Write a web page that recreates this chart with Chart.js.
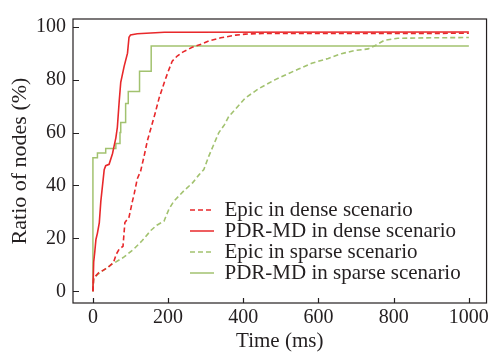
<!DOCTYPE html>
<html>
<head>
<meta charset="utf-8">
<script src="https://cdn.jsdelivr.net/npm/chart.js@4/dist/chart.umd.min.js"></script>
<style>
  html, body { margin: 0; padding: 0; background: #fff; }
  #wrap { width: 492px; height: 358px; }
</style>
</head>
<body>
<div id="wrap"><canvas id="chart" width="492" height="358"></canvas></div>
<script>
// series: time in ms, ratio of nodes in %
var epicDenseT = [0, 2, 15, 40, 55, 62, 70, 80, 85, 96, 105, 110, 118, 127, 136, 145, 155, 165, 176, 190, 200, 211, 225, 240, 264, 290, 310, 340, 380, 405, 450, 1000];
var epicDenseV = [0, 5, 7, 9, 11, 14, 16, 17, 26, 28, 34, 37, 42.5, 45.5, 51, 57, 62, 67, 73, 79, 83, 87, 89, 90.5, 92.2, 93.5, 94.7, 95.8, 96.8, 97.2, 97.4, 97.5];

var pdrDenseT = [0, 2, 5, 8, 12, 17, 21, 30, 34, 43, 52, 56, 61, 65, 70, 74, 83, 92, 96, 100, 118, 190, 1000];
var pdrDenseV = [0, 11, 15, 19.6, 22, 26, 34, 46, 47.5, 48, 52, 54.7, 58, 62, 72, 79, 85, 90, 96, 96.9, 97.3, 97.9, 98];

var epicSparseT = [0, 2, 12, 48, 83, 109, 130, 154, 170, 189, 202, 215, 242, 265, 282, 295, 308, 320, 335, 350, 361, 380, 405, 440, 485, 520, 547, 582, 626, 661, 697, 732, 750, 776, 811, 900, 1000];
var epicSparseV = [0, 5, 6.3, 10, 13, 16, 19, 23, 25, 26.5, 31, 34, 38, 41, 44, 46, 51, 55, 60, 63, 66, 69, 73, 76.5, 80, 82.3, 84, 86.2, 88, 89.8, 91, 91.6, 92.8, 94.9, 95.6, 95.8, 95.9];

// step curve: each value holds from the previous time up to its own time
var pdrSparseT = [0, 0, 12, 34, 61, 72, 74, 87, 94, 124, 155, 1000];
var pdrSparseV = [0, 50.5, 52.3, 54, 55.9, 60, 63.8, 71, 75.5, 83.2, 92.7, 92.7];

var seriesNames = ["Epic in dense scenario", "PDR-MD in dense scenario", "Epic in sparse scenario", "PDR-MD in sparse scenario"];
var yTicks = [0, 20, 40, 60, 80, 100];
var xTicks = [0, 200, 400, 600, 800, 1000];

const RED = "#e8282b";
const GREEN = "#a2c26f";
const INK = "#231f20";
const FONT = "'Liberation Serif', 'Times New Roman', serif";

function toPoints(ts, vs) {
    var pts = [];
    for (var i = 0; i < ts.length; i++)
        pts.push({ x: ts[i], y: vs[i] });
    return pts;
}

// frame round the plot and the inward tick marks
var framePlugin = {
    id: "frame",
    afterDatasetsDraw: function (chart) {
        var ctx = chart.ctx;
        var a = chart.chartArea;
        var xs = chart.scales.x, ys = chart.scales.y;
        ctx.save();
        ctx.strokeStyle = INK;
        ctx.lineWidth = 1.2;
        ctx.strokeRect(a.left, a.top, a.right - a.left, a.bottom - a.top);
        ctx.beginPath();
        yTicks.forEach(function (v) {
            var py = Math.round(ys.getPixelForValue(v)) + 0.5;
            ctx.moveTo(a.left, py);
            ctx.lineTo(a.left + 6, py);
        });
        xTicks.forEach(function (v) {
            var px = Math.round(xs.getPixelForValue(v)) + 0.5;
            ctx.moveTo(px, a.bottom);
            ctx.lineTo(px, a.bottom - 5);
        });
        ctx.stroke();
        ctx.restore();
    }
};

// the legend sits inside the plot, bottom right
var legendPlace = {
    id: "legendPlace",
    afterLayout: function (chart) {
        var lg = chart.legend;
        if (!lg) return;
        lg.left = 190;
        lg.top = 199.5;
        lg.right = 482;
        lg.bottom = 300;
    }
};

// legend samples keep the dash of their dataset
function legendItems(chart) {
    var items = Chart.defaults.plugins.legend.labels.generateLabels(chart);
    items.forEach(function (it, i) {
        it.lineDash = chart.data.datasets[i].borderDash || [];
        it.pointStyle = "line";
        it.lineWidth = 1.6;
    });
    return items;
}

var chart = new Chart(document.getElementById("chart"), {
    type: "line",
    data: {
        datasets: [
            {
                label: seriesNames[0],
                data: toPoints(epicDenseT, epicDenseV),
                borderColor: RED, backgroundColor: RED,
                borderWidth: 1.6, borderDash: [5, 3]
            },
            {
                label: seriesNames[1],
                data: toPoints(pdrDenseT, pdrDenseV),
                borderColor: RED, backgroundColor: RED,
                borderWidth: 1.6
            },
            {
                label: seriesNames[2],
                data: toPoints(epicSparseT, epicSparseV),
                borderColor: GREEN, backgroundColor: GREEN,
                borderWidth: 1.6, borderDash: [5, 3]
            },
            {
                label: seriesNames[3],
                data: toPoints(pdrSparseT, pdrSparseV),
                borderColor: GREEN, backgroundColor: GREEN,
                borderWidth: 1.5, stepped: "before"
            }
        ]
    },
    options: {
        responsive: false,
        animation: false,
        devicePixelRatio: 1,
        layout: { padding: { top: 7, right: 3, left: 0, bottom: 0 } },
        elements: { point: { radius: 0 }, line: { tension: 0 } },
        plugins: {
            tooltip: { enabled: false },
            legend: {
                position: "chartArea",
                align: "start",
                labels: {
                    usePointStyle: true,
                    pointStyle: "line",
                    pointStyleWidth: 24,
                    boxHeight: 21,
                    padding: 0,
                    color: INK,
                    font: { family: FONT, size: 21 },
                    generateLabels: legendItems
                }
            }
        },
        scales: {
            x: {
                type: "linear",
                min: -53, max: 1047,
                afterFit: function (s) { s.height = 55; },
                grid: { display: false, drawTicks: false },
                border: { display: false },
                ticks: {
                    stepSize: 200, includeBounds: false, padding: 3,
                    color: INK, font: { family: FONT, size: 20 }, maxRotation: 0,
                    callback: function (v) { return String(v); }
                },
                title: {
                    display: true, text: "Time (ms)", color: INK,
                    font: { family: FONT, size: 21 }, padding: { top: 0, bottom: 3.7 }
                }
            },
            y: {
                type: "linear",
                min: -4.4, max: 102.9,
                afterFit: function (s) { s.width = 73; },
                grid: { display: false, drawTicks: false },
                border: { display: false },
                ticks: {
                    stepSize: 20, includeBounds: false, padding: 7,
                    color: INK, font: { family: FONT, size: 20 },
                    callback: function (v) { return String(v); }
                },
                title: {
                    display: true, text: "Ratio of nodes (%)", color: INK,
                    font: { family: FONT, size: 22 }, padding: { top: 7, bottom: 0 }
                }
            }
        }
    },
    plugins: [framePlugin, legendPlace]
});
</script>
</body>
</html>
